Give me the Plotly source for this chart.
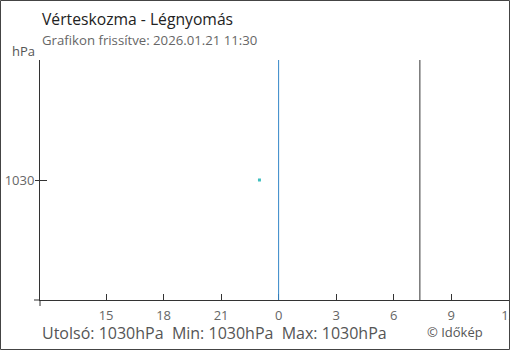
import plotly.graph_objects as go

# Data
hours = [-1.0]            # hours relative to midnight (23:00 previous day)
pressure = [1030]         # hPa
tick_vals = [-9, -6, -3, 0, 3, 6, 9, 12]
tick_text = ["15", "18", "21", "0", "3", "6", "9", "12"]
y_ticks = [1030]
midnight = 0
now_mark = 7.37
title = "Vérteskozma - Légnyomás"
subtitle = "Grafikon frissítve: 2026.01.21 11:30"
summary = "Utolsó: 1030hPa  Min: 1030hPa  Max: 1030hPa"

W, H = 510, 350
L, R, T, B = 40, 1, 60, 50
pw, ph = W - L - R, H - T - B

def ux(px):
    return (px - L) / pw

def vy(py):
    return (H - B - py) / ph

FONT = "Open Sans"
fig = go.Figure()
fig.add_trace(go.Scatter(
    x=hours, y=pressure, mode="markers",
    marker=dict(symbol="square", size=3, color="#3fbfbf", line=dict(width=0)),
    showlegend=False, hoverinfo="skip"))
# invisible trace for the overlaying y axis
fig.add_trace(go.Scatter(x=hours, y=pressure, yaxis="y2", mode="markers",
                         marker=dict(opacity=0), showlegend=False, hoverinfo="skip"))

yr = [1029, 1031]
fig.update_layout(
    width=W, height=H,
    margin=dict(l=L, r=R, t=T, b=B, pad=0, autoexpand=False),
    paper_bgcolor="white", plot_bgcolor="white",
    font=dict(family=FONT, color="#555", size=13),
    xaxis=dict(range=[-12.45, 12.02], tickvals=tick_vals, ticktext=tick_text,
               automargin=False,
               showgrid=False, zeroline=False, showline=True, linecolor="#333", linewidth=1,
               ticks="inside", ticklen=6, tickcolor="#333", tickwidth=1,
               ticklabelstandoff=3, ticklabeloverflow="allow",
               tickfont=dict(size=13, color="#666")),
    yaxis=dict(range=yr, tickvals=y_ticks, showgrid=False, zeroline=False,
               automargin=False,
               showline=True, linecolor="#333", linewidth=1,
               ticks="outside", ticklen=4, tickcolor="#333", ticklabelstandoff=-2,
               tickfont=dict(size=13, color="#666")),
    yaxis2=dict(range=yr, overlaying="y", side="left", tickvals=y_ticks,
                automargin=False,
                showticklabels=False, showgrid=False, zeroline=False,
                ticks="inside", ticklen=7, tickcolor="#333", showline=False),
)

shapes = [
    # midnight line
    dict(type="line", xref="x", yref="paper", x0=midnight, x1=midnight, y0=0, y1=1,
         line=dict(color="#3386c8", width=1)),
    # now marker
    dict(type="line", xref="x", yref="paper", x0=now_mark, x1=now_mark, y0=0, y1=1,
         line=dict(color="#333", width=1)),
    # axis extensions
    dict(type="line", xref="paper", yref="paper", x0=ux(34), x1=0, y0=0, y1=0,
         line=dict(color="#333", width=1)),
    dict(type="line", xref="paper", yref="paper", x0=0, x1=0, y0=vy(306), y1=0,
         line=dict(color="#333", width=1)),
    # outer border
    dict(type="rect", xref="paper", yref="paper", x0=ux(0.5), x1=ux(509.5),
         y0=vy(349.5), y1=vy(0.5), line=dict(color="#444", width=1)),
]
fig.update_layout(shapes=shapes)

ann = [
    dict(text=title, x=ux(40), y=vy(19), xanchor="left", yanchor="middle",
         font=dict(size=15.7, color="#222")),
    dict(text=subtitle, x=ux(40), y=vy(40), xanchor="left", yanchor="middle",
         font=dict(size=13.2, color="#666")),
    dict(text="hPa", x=ux(23.5), y=vy(51), xanchor="center", yanchor="middle",
         font=dict(size=13, color="#555")),
    dict(text=summary, x=ux(40), y=vy(333), xanchor="left", yanchor="middle",
         font=dict(size=16, color="#555")),
    dict(text="© Időkép", x=ux(425), y=vy(332), xanchor="left", yanchor="middle",
         font=dict(size=13, color="#555")),
]
for a in ann:
    a.update(xref="paper", yref="paper", showarrow=False)
fig.update_layout(annotations=ann)

fig.write_html("out.html")
